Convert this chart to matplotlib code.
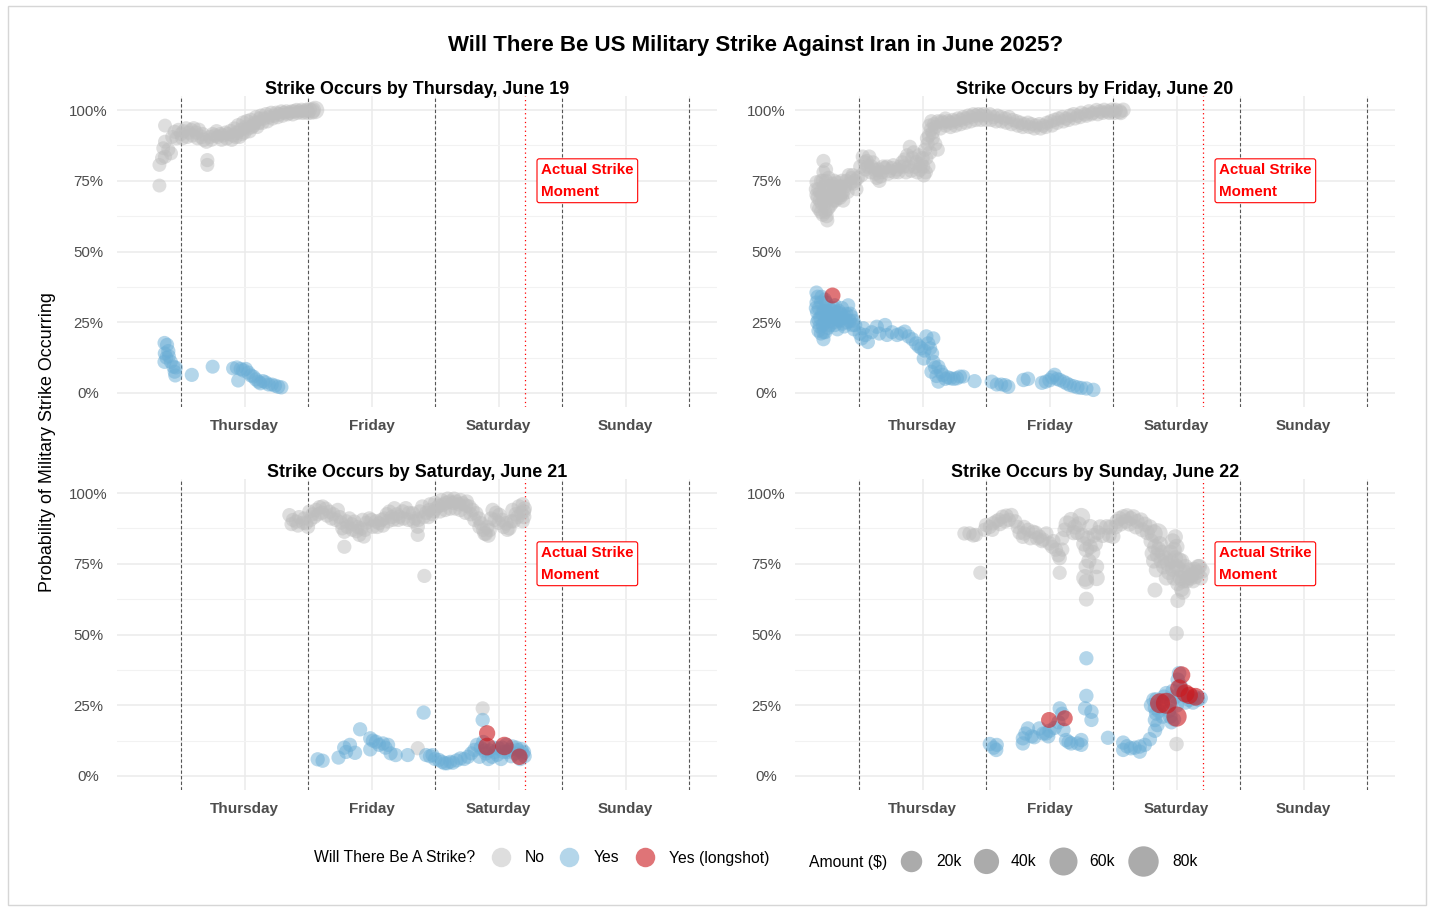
import matplotlib
matplotlib.use("Agg")
import matplotlib.pyplot as plt
import numpy as np
from matplotlib.patches import Rectangle

plt.rcParams['font.family'] = ['Liberation Sans', 'DejaVu Sans']

# ---------------- data (x = days since Thursday 00:00, p = probability, amount in $) -------------
day_breaks = [0.5, 1.5, 2.5, 3.5]
day_labels = ['Thursday', 'Friday', 'Saturday', 'Sunday']
midnights = [0, 1, 2, 3, 4]
strike_time = 2.71
y_breaks = [0, 0.25, 0.5, 0.75, 1.0]
y_labels = ['0%', '25%', '50%', '75%', '100%']
panel_titles = ['Strike Occurs by Thursday, June 19', 'Strike Occurs by Friday, June 20',
                'Strike Occurs by Saturday, June 21', 'Strike Occurs by Sunday, June 22']
legend_amounts = [20000, 40000, 60000, 80000]
legend_amount_labels = ['20k', '40k', '60k', '80k']

thu_no = [
    (-0.170, 0.733, 500), (-0.170, 0.806, 500), (-0.150, 0.830, 500), (-0.140, 0.865, 500),
    (-0.126, 0.888, 600), (-0.126, 0.945, 500), (-0.126, 0.835, 700), (-0.100, 0.860, 600),
    (-0.079, 0.847, 600), (-0.070, 0.905, 500), (-0.050, 0.923, 700), (-0.035, 0.900, 800),
    (-0.020, 0.930, 600), (0.000, 0.915, 700), (0.020, 0.925, 800), (0.040, 0.935, 900),
    (0.060, 0.920, 700), (0.080, 0.930, 600), (0.100, 0.935, 1000), (0.120, 0.920, 700),
    (0.140, 0.930, 900), (0.160, 0.905, 1200), (0.180, 0.895, 900), (0.200, 0.888, 800),
    (0.207, 0.823, 700), (0.207, 0.806, 600), (0.230, 0.905, 700), (0.250, 0.915, 800),
    (0.270, 0.910, 900), (0.290, 0.905, 600), (0.310, 0.915, 700), (0.330, 0.910, 900),
    (0.350, 0.920, 800), (0.370, 0.915, 700), (0.390, 0.925, 1200), (0.410, 0.910, 800),
    (0.420, 0.935, 600), (0.440, 0.920, 900), (0.450, 0.945, 1500), (0.470, 0.930, 800),
    (0.490, 0.955, 1200), (0.500, 0.920, 700), (0.520, 0.960, 1300), (0.530, 0.935, 800),
    (0.550, 0.965, 900), (0.570, 0.945, 1000), (0.590, 0.975, 700), (0.610, 0.955, 1200),
    (0.630, 0.980, 800), (0.650, 0.970, 900), (0.670, 0.985, 1000), (0.690, 0.975, 700),
    (0.710, 0.990, 800), (0.730, 0.980, 700), (0.750, 0.990, 900), (0.770, 0.985, 1000),
    (0.790, 0.995, 700), (0.810, 0.990, 600), (0.830, 0.995, 800), (0.850, 0.990, 900),
    (0.870, 0.995, 700), (0.890, 0.995, 1000), (0.910, 1.000, 800), (0.930, 0.995, 900),
    (0.950, 1.000, 1200), (0.970, 0.995, 900), (0.990, 1.000, 1500), (1.010, 1.000, 2000),
    (1.030, 0.995, 4000), (1.055, 1.000, 9000),
    (0.010, 0.900, 800), (0.050, 0.905, 700), (0.090, 0.910, 800), (0.130, 0.900, 700),
    (0.170, 0.915, 800), (0.240, 0.895, 700), (0.280, 0.925, 800), (0.320, 0.895, 700),
    (0.360, 0.900, 900), (0.400, 0.895, 800), (0.430, 0.905, 900), (0.460, 0.905, 800),
    (0.480, 0.915, 700), (0.510, 0.940, 900), (0.540, 0.925, 800), (0.560, 0.940, 900),
    (0.580, 0.955, 800), (0.600, 0.940, 700), (0.620, 0.970, 800), (0.640, 0.955, 900),
    (0.680, 0.960, 800), (0.720, 0.970, 800), (0.760, 0.975, 900), (0.800, 0.980, 800),
    (0.840, 0.985, 800), (0.880, 0.985, 900), (0.920, 0.990, 800), (0.960, 0.990, 900),
    (1.000, 0.990, 1200), (1.040, 1.000, 3000),
]
thu_yes = [
    (-0.130, 0.177, 600), (-0.110, 0.170, 700), (-0.128, 0.140, 600), (-0.100, 0.148, 800),
    (-0.130, 0.110, 700), (-0.115, 0.125, 600), (-0.095, 0.130, 500), (-0.080, 0.110, 600),
    (-0.060, 0.093, 700), (-0.050, 0.075, 600), (-0.040, 0.090, 500), (-0.045, 0.062, 700),
    (0.085, 0.064, 700), (0.249, 0.093, 600), (0.410, 0.087, 600), (0.440, 0.090, 800),
    (0.470, 0.085, 700), (0.450, 0.044, 600), (0.490, 0.080, 900), (0.510, 0.085, 700),
    (0.530, 0.072, 800), (0.550, 0.062, 700), (0.570, 0.058, 600), (0.590, 0.048, 800),
    (0.610, 0.040, 700), (0.625, 0.034, 600), (0.645, 0.042, 700), (0.665, 0.038, 600),
    (0.690, 0.030, 700), (0.715, 0.030, 600), (0.740, 0.026, 700), (0.765, 0.022, 800),
    (0.790, 0.020, 800),
]
thu_long = []

fri_no = [
    (-0.335, 0.745, 600), (-0.335, 0.700, 700), (-0.330, 0.660, 600), (-0.320, 0.720, 800),
    (-0.310, 0.680, 700), (-0.300, 0.750, 600), (-0.300, 0.640, 700), (-0.290, 0.700, 900),
    (-0.280, 0.820, 700), (-0.280, 0.780, 600), (-0.275, 0.730, 800), (-0.270, 0.670, 700),
    (-0.260, 0.750, 700), (-0.255, 0.625, 800), (-0.250, 0.690, 900), (-0.250, 0.610, 700),
    (-0.240, 0.720, 700), (-0.230, 0.660, 800), (-0.220, 0.700, 700), (-0.210, 0.740, 600),
    (-0.200, 0.680, 800), (-0.190, 0.720, 700), (-0.180, 0.700, 900), (-0.170, 0.745, 600),
    (-0.160, 0.710, 700), (-0.150, 0.690, 800), (-0.140, 0.730, 600), (-0.130, 0.700, 700),
    (-0.120, 0.715, 700), (-0.100, 0.750, 600), (-0.080, 0.770, 700), (-0.060, 0.760, 600),
    (-0.040, 0.740, 700), (-0.020, 0.720, 600),
    (-0.340, 0.720, 700), (-0.325, 0.690, 800), (-0.315, 0.650, 700), (-0.305, 0.710, 800),
    (-0.295, 0.670, 700), (-0.285, 0.630, 800), (-0.285, 0.750, 700), (-0.270, 0.700, 900),
    (-0.265, 0.640, 700), (-0.260, 0.790, 800), (-0.245, 0.650, 700), (-0.240, 0.760, 800),
    (-0.235, 0.690, 700), (-0.225, 0.730, 900), (-0.215, 0.670, 800), (-0.205, 0.710, 700),
    (-0.195, 0.750, 800), (-0.185, 0.680, 700), (-0.175, 0.720, 800), (-0.165, 0.690, 900),
    (-0.155, 0.730, 700), (-0.145, 0.700, 800), (-0.135, 0.750, 700), (-0.125, 0.680, 800),
    (-0.110, 0.730, 900), (-0.090, 0.710, 700), (-0.070, 0.740, 800), (-0.050, 0.770, 700),
    (-0.030, 0.750, 800), (-0.010, 0.760, 900),
    (0.010, 0.800, 800), (0.030, 0.835, 900), (0.050, 0.790, 700), (0.060, 0.820, 800),
    (0.080, 0.835, 1000), (0.100, 0.800, 700), (0.120, 0.790, 800), (0.140, 0.760, 700),
    (0.160, 0.750, 900), (0.180, 0.780, 800), (0.200, 0.795, 700), (0.220, 0.800, 900),
    (0.240, 0.785, 800), (0.260, 0.795, 700), (0.280, 0.780, 800), (0.300, 0.790, 900),
    (0.320, 0.800, 700), (0.340, 0.815, 800), (0.360, 0.825, 1000), (0.380, 0.840, 800),
    (0.390, 0.800, 900), (0.400, 0.870, 700), (0.420, 0.830, 800), (0.440, 0.800, 1200),
    (0.460, 0.780, 1000), (0.480, 0.790, 1500), (0.500, 0.830, 900), (0.510, 0.770, 1200),
    (0.520, 0.860, 800), (0.540, 0.880, 900), (0.545, 0.800, 1000), (0.550, 0.910, 700),
    (0.555, 0.945, 800), (0.570, 0.960, 900), (0.580, 0.920, 800), (0.580, 0.900, 800),
    (0.600, 0.880, 800), (0.600, 0.940, 700), (0.620, 0.960, 800), (0.620, 0.860, 700),
    (0.020, 0.770, 800), (0.045, 0.815, 700), (0.070, 0.800, 900), (0.090, 0.780, 800),
    (0.110, 0.815, 700), (0.130, 0.775, 800), (0.150, 0.790, 700), (0.170, 0.765, 800),
    (0.190, 0.800, 900), (0.230, 0.775, 800), (0.270, 0.805, 700), (0.310, 0.780, 800),
    (0.350, 0.800, 900), (0.370, 0.780, 800), (0.410, 0.785, 700), (0.430, 0.850, 900),
    (0.450, 0.815, 800), (0.470, 0.840, 700), (0.490, 0.810, 900), (0.505, 0.800, 800),
    (0.525, 0.780, 900), (0.530, 0.830, 800), (0.535, 0.900, 700), (0.560, 0.850, 900),
    (0.565, 0.930, 800), (0.590, 0.950, 700),
    (0.640, 0.935, 900), (0.660, 0.955, 800), (0.680, 0.945, 700), (0.700, 0.960, 800),
    (0.720, 0.955, 900), (0.740, 0.965, 700), (0.760, 0.960, 800), (0.780, 0.970, 900),
    (0.800, 0.965, 800), (0.820, 0.975, 700), (0.840, 0.970, 800), (0.860, 0.980, 900),
    (0.880, 0.975, 800), (0.900, 0.985, 700), (0.920, 0.980, 800), (0.940, 0.985, 900),
    (0.960, 0.980, 800), (0.980, 0.985, 1000), (1.000, 0.980, 800), (1.030, 0.985, 700),
    (1.060, 0.975, 900), (1.090, 0.980, 800), (1.120, 0.975, 700), (1.150, 0.970, 900),
    (1.180, 0.975, 800), (1.210, 0.965, 700), (1.240, 0.960, 900), (1.270, 0.955, 1000),
    (1.300, 0.950, 800), (1.330, 0.955, 900), (1.360, 0.950, 700), (1.390, 0.945, 800),
    (1.420, 0.950, 900), (1.450, 0.945, 800), (1.480, 0.955, 700), (1.510, 0.960, 800),
    (1.540, 0.965, 900), (1.570, 0.970, 800), (1.600, 0.975, 900), (1.630, 0.970, 800),
    (1.660, 0.980, 900), (1.690, 0.985, 1000), (1.720, 0.980, 800), (1.750, 0.990, 900),
    (1.780, 0.985, 800), (1.810, 0.995, 1000), (1.840, 0.990, 900), (1.870, 1.000, 800),
    (1.900, 0.995, 1000), (1.930, 1.000, 1200), (1.960, 0.995, 1000), (1.990, 1.000, 1500),
    (2.020, 1.000, 1200), (2.050, 0.995, 2000), (2.080, 1.000, 1500),
    (0.650, 0.960, 800), (0.680, 0.970, 700), (0.720, 0.940, 800), (0.760, 0.945, 900),
    (0.800, 0.950, 800), (0.840, 0.955, 700), (0.880, 0.960, 800), (0.920, 0.965, 900),
    (0.960, 0.965, 800), (1.000, 0.965, 700), (1.040, 0.965, 800), (1.080, 0.960, 900),
    (1.120, 0.960, 800), (1.160, 0.955, 700), (1.200, 0.950, 800), (1.250, 0.945, 900),
    (1.290, 0.940, 800), (1.340, 0.940, 700), (1.380, 0.935, 800), (1.430, 0.935, 900),
    (1.470, 0.940, 800), (1.520, 0.945, 700), (1.560, 0.955, 800), (1.610, 0.960, 900),
    (1.650, 0.965, 800), (1.700, 0.970, 700), (1.740, 0.975, 800), (1.790, 0.980, 900),
    (1.830, 0.985, 800), (1.880, 0.985, 700), (1.920, 0.990, 800), (1.970, 0.990, 900),
    (2.010, 0.990, 1000), (2.060, 0.990, 1200),
]
fri_yes = [
    (-0.335, 0.355, 700), (-0.335, 0.320, 600), (-0.330, 0.285, 800), (-0.330, 0.250, 700),
    (-0.320, 0.220, 600), (-0.315, 0.300, 900), (-0.305, 0.265, 700), (-0.300, 0.210, 600),
    (-0.295, 0.340, 700), (-0.285, 0.240, 800), (-0.280, 0.190, 700), (-0.275, 0.290, 900),
    (-0.265, 0.215, 700), (-0.260, 0.320, 800), (-0.250, 0.265, 700), (-0.245, 0.230, 600),
    (-0.235, 0.300, 800), (-0.225, 0.255, 700), (-0.210, 0.290, 900), (-0.200, 0.250, 800),
    (-0.190, 0.310, 700), (-0.180, 0.270, 600), (-0.170, 0.225, 700), (-0.160, 0.290, 800),
    (-0.150, 0.255, 700), (-0.135, 0.300, 900), (-0.125, 0.265, 800), (-0.115, 0.235, 700),
    (-0.100, 0.280, 600), (-0.085, 0.310, 700), (-0.075, 0.255, 800), (-0.060, 0.270, 700),
    (-0.050, 0.240, 800), (-0.040, 0.225, 700),
    (-0.340, 0.300, 700), (-0.325, 0.340, 800), (-0.320, 0.260, 700), (-0.310, 0.235, 800),
    (-0.300, 0.320, 700), (-0.290, 0.280, 900), (-0.280, 0.215, 800), (-0.270, 0.250, 700),
    (-0.270, 0.330, 800), (-0.255, 0.290, 700), (-0.240, 0.280, 800), (-0.230, 0.240, 900),
    (-0.215, 0.270, 700), (-0.200, 0.300, 800), (-0.190, 0.240, 700), (-0.175, 0.285, 800),
    (-0.160, 0.260, 900), (-0.145, 0.280, 700), (-0.130, 0.245, 800), (-0.110, 0.270, 700),
    (-0.095, 0.250, 800), (-0.070, 0.280, 900), (-0.045, 0.255, 700), (-0.030, 0.240, 800),
    (0.005, 0.210, 700), (0.050, 0.205, 800),
    (0.034, 0.229, 700), (0.020, 0.193, 800), (0.070, 0.180, 700), (0.100, 0.215, 600),
    (0.140, 0.234, 800), (0.160, 0.210, 700), (0.205, 0.240, 900), (0.220, 0.205, 700),
    (0.260, 0.215, 600), (0.300, 0.205, 800), (0.330, 0.210, 700), (0.360, 0.217, 700),
    (0.390, 0.200, 800), (0.420, 0.190, 700), (0.450, 0.175, 900), (0.470, 0.165, 800),
    (0.490, 0.158, 700), (0.510, 0.122, 800), (0.515, 0.150, 700), (0.530, 0.200, 800),
    (0.545, 0.175, 900), (0.560, 0.158, 700), (0.575, 0.140, 800), (0.585, 0.193, 700),
    (0.585, 0.110, 900), (0.570, 0.075, 700), (0.600, 0.090, 800), (0.610, 0.060, 700),
    (0.625, 0.093, 800), (0.625, 0.040, 700), (0.645, 0.075, 800), (0.660, 0.064, 900),
    (0.680, 0.050, 700), (0.700, 0.055, 800), (0.720, 0.052, 700), (0.745, 0.050, 800),
    (0.770, 0.052, 900), (0.795, 0.058, 700), (0.820, 0.058, 600), (0.910, 0.042, 700),
    (1.045, 0.040, 800), (1.085, 0.030, 700), (1.120, 0.030, 600), (1.150, 0.028, 700),
    (1.175, 0.022, 800), (1.295, 0.046, 900), (1.330, 0.050, 1000), (1.440, 0.036, 800),
    (1.470, 0.040, 700), (1.500, 0.045, 900), (1.520, 0.055, 800), (1.540, 0.064, 900),
    (1.560, 0.050, 700), (1.580, 0.046, 800), (1.610, 0.040, 700), (1.635, 0.034, 800),
    (1.660, 0.028, 700), (1.690, 0.024, 700), (1.720, 0.020, 800), (1.750, 0.018, 700),
    (1.790, 0.016, 800), (1.845, 0.011, 900),
]
fri_long = [(-0.210, 0.346, 3000)]

sat_no = [
    (0.853, 0.922, 700), (0.880, 0.905, 600), (0.906, 0.899, 800), (0.930, 0.915, 700),
    (0.960, 0.895, 600), (0.984, 0.893, 900), (1.000, 0.880, 700), (1.010, 0.934, 800),
    (1.035, 0.925, 700), (1.063, 0.940, 900), (1.090, 0.950, 800), (1.115, 0.952, 1000),
    (1.140, 0.945, 700), (1.168, 0.934, 900), (1.200, 0.925, 800), (1.234, 0.940, 900),
    (1.250, 0.915, 700), (1.260, 0.895, 800), (1.286, 0.863, 800), (1.286, 0.810, 700),
    (1.300, 0.900, 800), (1.325, 0.910, 900), (1.345, 0.890, 700), (1.365, 0.899, 800),
    (1.390, 0.880, 700), (1.404, 0.852, 800), (1.440, 0.846, 700), (1.430, 0.905, 900),
    (1.460, 0.895, 800), (1.483, 0.910, 900), (1.510, 0.881, 1000), (1.535, 0.900, 800),
    (1.560, 0.893, 700), (1.580, 0.905, 900), (1.600, 0.910, 800), (1.620, 0.925, 900),
    (1.640, 0.934, 1000), (1.660, 0.915, 800), (1.680, 0.946, 900), (1.700, 0.925, 700),
    (1.720, 0.916, 800), (1.745, 0.935, 900), (1.770, 0.946, 1000), (1.795, 0.930, 800),
    (1.824, 0.928, 900), (1.845, 0.910, 700), (1.864, 0.881, 900), (1.864, 0.852, 700),
    (1.880, 0.935, 800), (1.900, 0.952, 1000), (1.916, 0.707, 700), (1.930, 0.930, 800),
    (1.955, 0.940, 900), (1.980, 0.925, 800), (2.008, 0.946, 1000), (2.030, 0.955, 900),
    (2.060, 0.958, 1200), (2.085, 0.965, 1000), (2.113, 0.969, 1200), (2.140, 0.965, 1000),
    (2.165, 0.969, 1300), (2.190, 0.960, 1000), (2.218, 0.963, 1200), (2.245, 0.955, 1000),
    (2.270, 0.952, 1100), (2.295, 0.940, 1000), (2.323, 0.928, 1200), (2.345, 0.910, 900),
    (2.362, 0.893, 1000), (2.380, 0.870, 900), (2.390, 0.857, 1200), (2.410, 0.880, 1000),
    (2.430, 0.869, 900), (2.440, 0.910, 800), (2.454, 0.940, 1000), (2.480, 0.930, 900),
    (2.507, 0.922, 1200), (2.530, 0.905, 1000), (2.560, 0.893, 1200), (2.585, 0.875, 1000),
    (2.600, 0.900, 900), (2.610, 0.940, 1000), (2.635, 0.925, 900), (2.660, 0.952, 1200),
    (2.680, 0.930, 1000), (2.700, 0.916, 1500), (2.705, 0.945, 1200),
    (2.375, 0.239, 700), (1.864, 0.098, 700),
    (0.870, 0.890, 700), (0.920, 0.885, 800), (0.970, 0.910, 700), (1.020, 0.905, 800),
    (1.050, 0.915, 700), (1.080, 0.925, 900), (1.110, 0.930, 800), (1.150, 0.920, 700),
    (1.185, 0.910, 800), (1.220, 0.905, 900), (1.270, 0.875, 700), (1.310, 0.880, 800),
    (1.350, 0.870, 700), (1.380, 0.865, 800), (1.420, 0.875, 900), (1.450, 0.870, 800),
    (1.500, 0.905, 700), (1.545, 0.880, 800), (1.590, 0.885, 900), (1.630, 0.900, 800),
    (1.670, 0.905, 700), (1.710, 0.905, 800), (1.750, 0.910, 900), (1.790, 0.905, 800),
    (1.830, 0.900, 700), (1.870, 0.905, 800), (1.910, 0.915, 900), (1.950, 0.915, 800),
    (1.990, 0.935, 700), (2.040, 0.935, 900), (2.080, 0.940, 800), (2.120, 0.945, 900),
    (2.160, 0.945, 800), (2.200, 0.940, 900), (2.240, 0.930, 800), (2.280, 0.925, 900),
    (2.310, 0.905, 800), (2.350, 0.880, 900), (2.400, 0.855, 800), (2.420, 0.850, 1200),
    (2.470, 0.905, 800), (2.500, 0.895, 900), (2.540, 0.880, 800), (2.570, 0.870, 900),
    (2.620, 0.900, 800), (2.650, 0.915, 900), (2.690, 0.900, 800), (2.700, 0.935, 1000),
    (1.960, 0.960, 800), (2.000, 0.965, 900), (2.050, 0.975, 800), (2.100, 0.980, 900),
    (2.150, 0.980, 800), (2.200, 0.975, 900), (2.250, 0.970, 800), (2.690, 0.960, 900),
]
sat_yes = [
    (1.076, 0.059, 800), (1.115, 0.054, 800), (1.240, 0.065, 700), (1.285, 0.100, 900),
    (1.300, 0.085, 700), (1.330, 0.110, 800), (1.370, 0.082, 900), (1.410, 0.165, 800),
    (1.490, 0.133, 900), (1.490, 0.094, 800), (1.510, 0.125, 700), (1.535, 0.121, 800),
    (1.560, 0.110, 700), (1.590, 0.115, 800), (1.610, 0.100, 700), (1.630, 0.110, 800),
    (1.650, 0.080, 700), (1.690, 0.074, 800), (1.785, 0.074, 700), (1.910, 0.224, 800),
    (1.930, 0.074, 700), (1.960, 0.070, 800), (1.980, 0.074, 700), (2.000, 0.060, 800),
    (2.030, 0.057, 700), (2.055, 0.050, 800), (2.075, 0.045, 700), (2.095, 0.045, 800),
    (2.120, 0.050, 700), (2.140, 0.047, 800), (2.170, 0.055, 700), (2.200, 0.062, 800),
    (2.230, 0.060, 700), (2.260, 0.068, 800), (2.285, 0.080, 700), (2.310, 0.092, 900),
    (2.330, 0.110, 800), (2.350, 0.068, 900), (2.375, 0.198, 800), (2.390, 0.090, 900),
    (2.400, 0.080, 1000), (2.420, 0.060, 800), (2.450, 0.068, 900), (2.470, 0.085, 800),
    (2.500, 0.098, 900), (2.520, 0.060, 800), (2.540, 0.085, 900), (2.560, 0.110, 1000),
    (2.585, 0.092, 900), (2.610, 0.104, 1000), (2.630, 0.080, 900), (2.650, 0.092, 800),
    (2.670, 0.060, 900), (2.690, 0.080, 800), (2.705, 0.070, 900),
    (2.360, 0.100, 900), (2.380, 0.120, 900), (2.430, 0.090, 900), (2.460, 0.100, 900),
    (2.490, 0.075, 900), (2.530, 0.100, 900), (2.570, 0.085, 900), (2.600, 0.070, 900),
    (2.640, 0.100, 900), (2.680, 0.095, 900), (2.700, 0.085, 900),
]
sat_long = [(2.410, 0.151, 3500), (2.410, 0.104, 7000), (2.546, 0.106, 9000), (2.664, 0.068, 4000)]

sun_no = [
    (0.830, 0.857, 800), (0.870, 0.857, 900), (0.900, 0.850, 800), (0.920, 0.852, 700),
    (0.955, 0.718, 700), (0.990, 0.870, 900), (1.000, 0.887, 800), (1.030, 0.880, 700),
    (1.055, 0.893, 900), (1.080, 0.900, 800), (1.100, 0.905, 900), (1.130, 0.916, 1000),
    (1.160, 0.920, 900), (1.200, 0.922, 1000), (1.230, 0.900, 800), (1.250, 0.880, 900),
    (1.265, 0.860, 1000), (1.290, 0.845, 800), (1.300, 0.857, 900), (1.330, 0.870, 800),
    (1.370, 0.863, 900), (1.400, 0.840, 800), (1.420, 0.846, 1000), (1.440, 0.830, 800),
    (1.475, 0.857, 900), (1.500, 0.822, 1000), (1.520, 0.810, 800), (1.550, 0.800, 900),
    (1.570, 0.780, 800), (1.580, 0.770, 900), (1.580, 0.718, 700), (1.600, 0.840, 1000),
    (1.620, 0.870, 1200), (1.640, 0.890, 6000), (1.670, 0.905, 3000), (1.700, 0.880, 2000),
    (1.720, 0.860, 1500), (1.750, 0.916, 7000), (1.760, 0.850, 1500), (1.770, 0.820, 2000),
    (1.790, 0.800, 2500), (1.790, 0.740, 2500), (1.780, 0.700, 7000), (1.790, 0.687, 2500),
    (1.790, 0.625, 1500), (1.810, 0.760, 1800), (1.820, 0.880, 3000), (1.840, 0.790, 2000),
    (1.850, 0.850, 1500), (1.870, 0.700, 4000), (1.870, 0.740, 2000), (1.880, 0.860, 1500),
    (1.900, 0.880, 2000), (1.950, 0.880, 2500), (1.970, 0.850, 1500), (2.000, 0.846, 1500),
    (2.020, 0.880, 1500), (2.050, 0.910, 1500), (2.080, 0.916, 1800), (2.110, 0.920, 1500),
    (2.140, 0.910, 1500), (2.160, 0.916, 1800), (2.190, 0.900, 1500), (2.220, 0.905, 1500),
    (2.250, 0.890, 1800), (2.290, 0.880, 2000), (2.320, 0.857, 8000), (2.350, 0.857, 16000),
    (2.310, 0.787, 2500), (2.320, 0.760, 2000), (2.340, 0.728, 1500), (2.330, 0.657, 1500),
    (2.360, 0.800, 2500), (2.380, 0.760, 2000), (2.400, 0.740, 2500), (2.420, 0.700, 2000),
    (2.440, 0.720, 2500), (2.460, 0.760, 2000), (2.480, 0.800, 2500), (2.500, 0.810, 3000),
    (2.500, 0.740, 2500), (2.510, 0.620, 1500), (2.520, 0.763, 2500), (2.530, 0.700, 2500),
    (2.550, 0.690, 2500), (2.550, 0.650, 2000), (2.570, 0.740, 2000), (2.590, 0.700, 2000),
    (2.600, 0.728, 2000), (2.620, 0.710, 2000), (2.640, 0.730, 2000), (2.660, 0.720, 2500),
    (2.680, 0.740, 2000), (2.690, 0.700, 1500), (2.500, 0.504, 1200), (2.500, 0.113, 1000),
    (2.300, 0.830, 2000), (2.330, 0.810, 2500), (2.350, 0.780, 2000), (2.370, 0.820, 2500),
    (2.390, 0.790, 2000), (2.410, 0.770, 2500), (2.430, 0.750, 2000), (2.450, 0.790, 2500),
    (2.470, 0.730, 2000), (2.480, 0.700, 2000), (2.490, 0.770, 2500), (2.510, 0.680, 2000),
    (2.520, 0.730, 2500), (2.540, 0.760, 2000), (2.540, 0.660, 2000), (2.560, 0.720, 2500),
    (2.580, 0.690, 2000), (2.610, 0.700, 2500), (2.630, 0.690, 2000), (2.650, 0.705, 2000),
    (2.670, 0.740, 2000), (2.700, 0.725, 2500), (2.470, 0.830, 2500), (2.490, 0.845, 2000),
    (1.300, 0.880, 900), (1.350, 0.840, 800), (1.390, 0.860, 900), (1.450, 0.835, 800),
    (1.530, 0.830, 900), (1.600, 0.800, 800), (1.690, 0.860, 2000), (1.730, 0.890, 2500),
    (1.800, 0.840, 2000), (1.820, 0.810, 1800), (1.860, 0.820, 2000), (1.920, 0.850, 1800),
    (1.980, 0.880, 1500), (2.030, 0.900, 1500), (2.060, 0.890, 1500), (2.100, 0.900, 1500),
    (2.130, 0.890, 1500), (2.180, 0.880, 1500), (2.230, 0.870, 1500), (2.270, 0.860, 1800),
    (1.110, 0.890, 800), (1.150, 0.900, 900), (1.180, 0.905, 800), (1.050, 0.870, 800),
]
sun_yes = [
    (1.030, 0.113, 900), (1.060, 0.100, 800), (1.080, 0.092, 900), (1.085, 0.110, 700),
    (1.290, 0.133, 800), (1.290, 0.115, 900), (1.310, 0.150, 800), (1.330, 0.168, 900),
    (1.360, 0.140, 700), (1.380, 0.137, 800), (1.420, 0.168, 900), (1.450, 0.150, 800),
    (1.470, 0.150, 900), (1.490, 0.140, 800), (1.500, 0.160, 900), (1.540, 0.170, 800),
    (1.570, 0.190, 900), (1.580, 0.239, 800), (1.600, 0.220, 900), (1.610, 0.163, 800),
    (1.630, 0.127, 900), (1.650, 0.120, 800), (1.670, 0.115, 900), (1.720, 0.115, 800),
    (1.750, 0.127, 900), (1.750, 0.110, 800), (1.790, 0.416, 800), (1.790, 0.283, 900),
    (1.780, 0.239, 900), (1.830, 0.227, 900), (1.830, 0.198, 800), (1.960, 0.135, 800),
    (2.080, 0.118, 900), (2.080, 0.092, 800), (2.110, 0.105, 900), (2.140, 0.098, 900),
    (2.170, 0.100, 800), (2.210, 0.104, 900), (2.210, 0.086, 900), (2.250, 0.110, 800),
    (2.290, 0.130, 900), (2.320, 0.269, 1500), (2.330, 0.240, 1200), (2.340, 0.221, 1200),
    (2.330, 0.198, 1000), (2.350, 0.180, 1000), (2.380, 0.260, 1500), (2.420, 0.292, 1500),
    (2.440, 0.230, 1200), (2.450, 0.210, 1200), (2.480, 0.200, 1000), (2.500, 0.250, 1500),
    (2.520, 0.363, 1200), (2.530, 0.320, 1200), (2.550, 0.292, 1500), (2.570, 0.260, 1200),
    (2.600, 0.269, 1200), (2.620, 0.275, 1200), (2.640, 0.280, 1000), (2.670, 0.270, 1000),
    (2.300, 0.250, 1200), (2.340, 0.270, 1200), (2.360, 0.230, 1200), (2.390, 0.210, 1000),
    (2.400, 0.280, 1200), (2.460, 0.260, 1200), (2.470, 0.300, 1200), (2.490, 0.280, 1200),
    (2.510, 0.340, 1200), (2.540, 0.300, 1200), (2.580, 0.280, 1200), (2.630, 0.260, 1200),
    (2.690, 0.275, 1000), (2.330, 0.160, 1000), (2.460, 0.190, 1000),
]
sun_long = [
    (1.496, 0.198, 3000), (1.620, 0.204, 3000), (2.370, 0.257, 14000), (2.420, 0.257, 18000),
    (2.500, 0.210, 15000), (2.540, 0.357, 6000), (2.520, 0.310, 7000), (2.570, 0.292, 8000),
    (2.650, 0.280, 7000), (2.600, 0.285, 6000),
]

# ---------------- styling -------------
W, H = 1430, 907
NO_C, YES_C, LONG_C = '#bebebe', '#6baed6', '#cb181d'
TXT_GREY = '#4d4d4d'


def diam_px(amount):
    return 12.5 + 19.0 * np.sqrt(np.asarray(amount, dtype=float) / 90000.0)


def size_pts2(amount):
    return (diam_px(amount) * 0.72) ** 2


fig = plt.figure(figsize=(W / 100, H / 100), dpi=100)
fig.patch.set_facecolor('white')


def px_axes(x0, y0, x1, y1, **kw):
    return fig.add_axes([x0 / W, 1 - y1 / H, (x1 - x0) / W, (y1 - y0) / H], **kw)


boxes = [(117, 96, 717, 407), (795, 96, 1395, 407), (117, 479, 717, 790), (795, 479, 1395, 790)]
panels = [(thu_no, thu_yes, thu_long), (fri_no, fri_yes, fri_long),
          (sat_no, sat_yes, sat_long), (sun_no, sun_yes, sun_long)]

for box, title, (s_no, s_yes, s_long) in zip(boxes, panel_titles, panels):
    ax = px_axes(*box)
    ax.set_xlim(-0.504, 4.22)
    ax.set_ylim(-0.0495, 1.0495)
    for sp in ax.spines.values():
        sp.set_visible(False)
    ax.set_xticks(day_breaks)
    ax.set_xticklabels(day_labels)
    ax.set_xticks(midnights, minor=True)
    ax.set_yticks(y_breaks)
    ax.set_yticklabels(y_labels)
    ax.set_yticks([0.125, 0.375, 0.625, 0.875], minor=True)
    ax.grid(which='major', color='#ebebeb', lw=1.1)
    ax.grid(which='minor', color='#f2f2f2', lw=0.8)
    ax.set_axisbelow(True)
    ax.tick_params(which='both', length=0)
    ax.tick_params(axis='x', pad=8.5, labelsize=11, labelcolor=TXT_GREY)
    ax.tick_params(axis='y', pad=20.5, labelsize=10.8, labelcolor=TXT_GREY)
    for lab in ax.get_xticklabels():
        lab.set_fontweight('bold')
    for lab in ax.get_yticklabels():
        lab.set_ha('center')
    for m in midnights:
        ax.axvline(m, color='#555555', lw=0.8, ls=(0, (3, 2)), zorder=1)
    ax.axvline(strike_time, color='red', lw=0.9, ls=(0, (1, 2.5)), zorder=1)

    for series, col, al in ((s_no, NO_C, 0.5), (s_yes, YES_C, 0.5), (s_long, LONG_C, 0.6)):
        if not series:
            continue
        xs, ps, am = zip(*series)
        ax.scatter(xs, ps, s=size_pts2(am), c=col, alpha=al, linewidths=0, zorder=3)

    ax.text(2.835, 0.75, 'Actual Strike\nMoment', color='red', fontweight='bold', fontsize=10.9,
            ha='left', va='center', linespacing=1.7, zorder=5,
            bbox=dict(boxstyle='round,pad=0.27,rounding_size=0.15', fc='white', ec='red', lw=0.8))

    cx = (box[0] + box[2]) / 2
    fig.text(cx / W, 1 - (box[1] - 6) / H, title, ha='center', va='center',
             fontsize=12.9, fontweight='bold', color='black')

fig.text(756 / W, 1 - 46 / H, 'Will There Be US Military Strike Against Iran in June 2025?',
         ha='center', va='center', fontsize=16, fontweight='bold', color='black')
fig.text(48 / W, 1 - 442 / H, 'Probability of Military Strike Occurring', rotation=90,
         ha='center', va='center', fontsize=12.9, color='black')

# ---------------- legend (overlay in pixel coordinates) -------------
lax = fig.add_axes([0, 0, 1, 1], facecolor='none')
lax.set_xlim(0, W)
lax.set_ylim(H, 0)
lax.axis('off')
lax.add_patch(Rectangle((8, 6), 1418, 899, fill=False, ec='#d6d6d6', lw=1.0))

lax.text(314, 858, 'Will There Be A Strike?', ha='left', va='center', fontsize=11.3, color='black')
key_d = 19.5
for kx, col, al, tx, lab in ((501, NO_C, 0.5, 525, 'No'), (569, YES_C, 0.5, 594, 'Yes'),
                             (645, LONG_C, 0.6, 669, 'Yes (longshot)')):
    lax.scatter([kx], [857], s=(key_d * 0.72) ** 2, c=col, alpha=al, linewidths=0)
    lax.text(tx, 858, lab, ha='left', va='center', fontsize=11.3, color='black')

lax.text(809, 862, 'Amount ($)', ha='left', va='center', fontsize=11.3, color='black')
for kx, tx, amt, lab in zip([911, 986, 1063, 1143], [936, 1011, 1089, 1172],
                            legend_amounts, legend_amount_labels):
    lax.scatter([kx], [861], s=size_pts2(amt), c='#ababab', linewidths=0)
    lax.text(tx, 862, lab, ha='left', va='center', fontsize=11.3, color='black')

fig.savefig('out.png', dpi=100, facecolor='white')
